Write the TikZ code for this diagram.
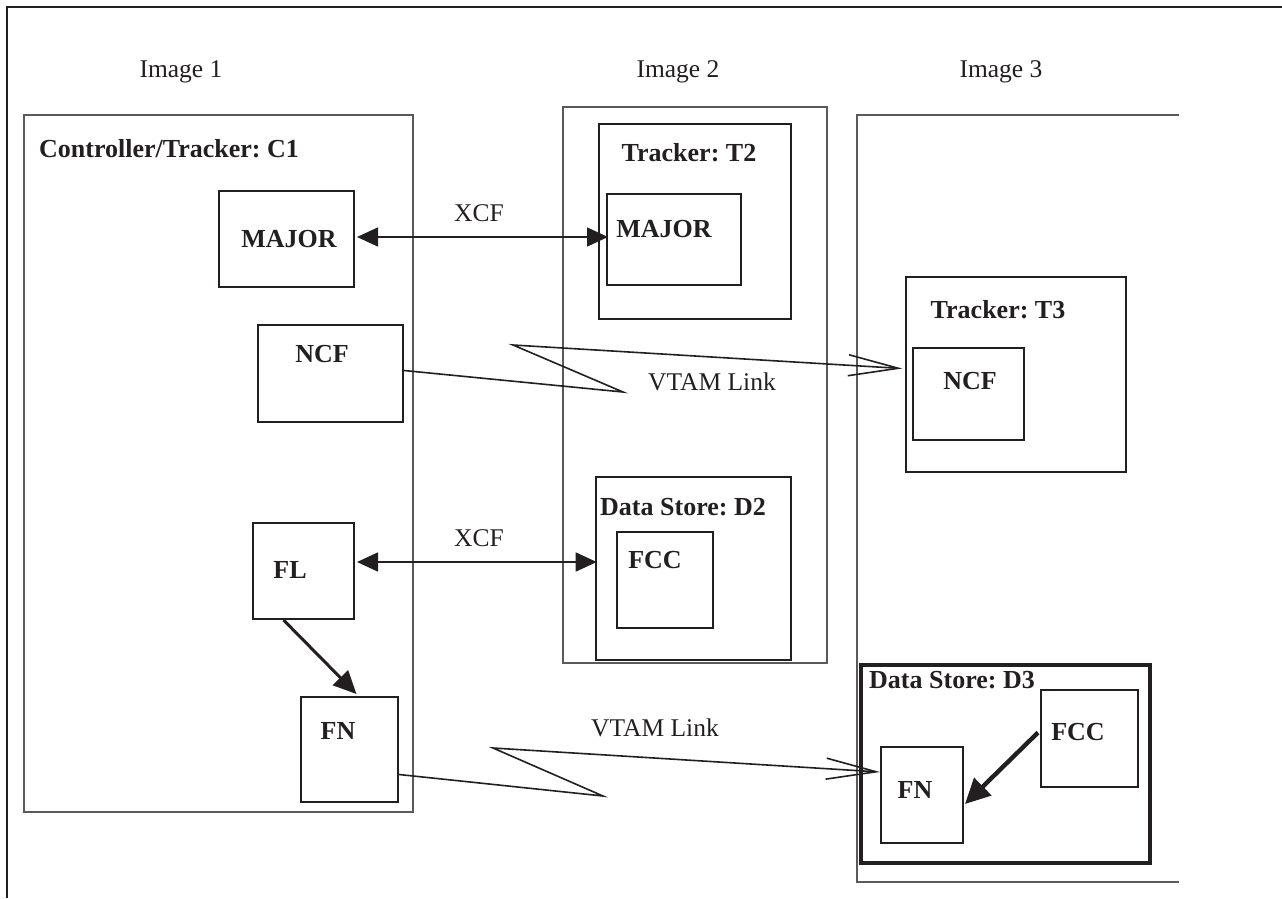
\documentclass[tikz,border=0pt]{standalone}
\usepackage{fontspec}
\setmainfont{Liberation Serif}
\usetikzlibrary{arrows.meta,fit,calc}
\definecolor{ink}{HTML}{231F20}
\definecolor{frame}{HTML}{5A5A5A}
\frenchspacing
\begin{document}
\begin{tikzpicture}[x=1pt,y=-1pt,
  every node/.style={text=ink},
  outerbox/.style={draw=frame,line width=1.3pt,inner sep=0pt},
  innerbox/.style={draw=ink,line width=2pt,inner sep=0pt},
  heavybox/.style={draw=ink,line width=3.2pt,inner sep=0pt},
  lbl/.style={font=\fontsize{26}{30}\selectfont\bfseries,inner sep=0pt,anchor=base},
  lbll/.style={font=\fontsize{26}{30}\selectfont\bfseries,inner sep=0pt,anchor=base west},
  rlbl/.style={font=\fontsize{25.5}{30}\selectfont,inner sep=0pt,anchor=base},
  xcf/.style={draw=ink,line width=1.6pt,{Triangle[length=21pt,width=19pt]}-{Triangle[length=21pt,width=19pt]}},
  vtam/.style={draw=ink,line width=1.6pt,line join=miter,-{Straight Barb[length=50pt,width=21pt,line width=1.6pt]}},
  flow/.style={draw=ink,line width=3pt,-{Triangle[length=23pt,width=21pt]}},
  heavyflow/.style={draw=ink,line width=4.4pt,-{Triangle[length=25pt,width=24pt]}}]
\useasboundingbox (0,0) rectangle (1282,898);
% outer frame
\draw[ink,line width=2pt] (7,898) -- (7,7) -- (1282,7);
% column headings
\node[rlbl] (h1) at (181,77) {Image 1};
\node[rlbl] (h2) at (678,77) {Image 2};
\node[rlbl] (h3) at (1001,77) {Image 3};
% Image 1
\node[outerbox,fit={(24,115) (413,812)}] (c1) {};
\node[lbll] (c1t) at (39,157) {Controller/Tracker: C1};
\node[innerbox,fit={(219,191) (354,287)}] (maj1) {};
\node[lbl] (maj1t) at (289,247) {MAJOR};
\node[innerbox,fit={(258,325) (403,422)}] (ncf1) {};
\node[lbl] (ncf1t) at (322,362) {NCF};
\node[innerbox,fit={(253,523) (354,619)}] (fl) {};
\node[lbl] (flt) at (290,578) {FL};
\node[innerbox,fit={(301,697) (398,802)}] (fn1) {};
\node[lbl] (fn1t) at (338,739) {FN};
% Image 2
\node[outerbox,fit={(563,107) (827,663)}] (img2) {};
\node[innerbox,fit={(599,124) (791,319)}] (t2) {};
\node[lbl] (t2t) at (689,161) {Tracker: T2};
\node[innerbox,fit={(607,194) (741,285)}] (maj2) {};
\node[lbl] (maj2t) at (664,237) {MAJOR};
\node[innerbox,line width=2.6pt,fit={(596,477) (791,660)}] (d2) {};
\node[lbl] (d2t) at (683,515) {Data Store: D2};
\node[innerbox,fit={(617,532) (713,628)}] (fcc2) {};
\node[lbl] (fcc2t) at (655,568) {FCC};
% Image 3
\draw[frame,line width=1.3pt] (1179,115) -- (857,115) -- (857,882) -- (1179,882);
\node[innerbox,line width=1.6pt,fit={(906,277) (1126,472)}] (t3) {};
\node[lbl] (t3t) at (998,318) {Tracker: T3};
\node[innerbox,line width=1.6pt,fit={(913,348) (1024,440)}] (ncf3) {};
\node[lbl] (ncf3t) at (970,389) {NCF};
\node[heavybox,fit={(861,665) (1150,863)}] (d3) {};
\node[lbll] (d3t) at (869,688) {Data Store: D3};
\node[innerbox,fit={(1041,690) (1138,787)}] (fcc3) {};
\node[lbl] (fcc3t) at (1078,740) {FCC};
\node[innerbox,fit={(881,747) (963,843)}] (fn3) {};
\node[lbl] (fn3t) at (915,798) {FN};
% XCF links
\draw[xcf] ([xshift=2pt,yshift=2pt]maj1.east) -- ([xshift=2pt,yshift=2pt]maj1.east -| maj2.west);
\node[rlbl] (xcf1) at (479,221) {XCF};
\draw[xcf] ([xshift=2pt,yshift=9pt]fl.east) -- ([xshift=2pt,yshift=9pt]fl.east -| d2.west);
\node[rlbl] (xcf2) at (479,546) {XCF};
% VTAM links
\coordinate (za1) at (623,392);
\coordinate (za2) at (513,345);
\draw[vtam] ([yshift=3pt]ncf1.east) -- (za1) -- (za2) -- ([xshift=-3pt,yshift=6pt]t3.west);
\node[rlbl] (vt1) at (712,390) {VTAM Link};
\coordinate (zb1) at (603,796);
\coordinate (zb2) at (493,748);
\draw[vtam] ([yshift=-25pt]fn1.east) -- (zb1) -- (zb2) -- ([yshift=23pt]fn3.west);
\node[rlbl] (vt2) at (655,736) {VTAM Link};
% internal flows
\draw[flow] ([xshift=-20pt]fl.south) -- ([xshift=7pt,yshift=2pt]fn1.north);
\draw[heavyflow] ([xshift=-2pt,yshift=6pt]fcc3.west) -- ([xshift=1pt,yshift=-9pt]fn3.east);
\end{tikzpicture}
\end{document}
